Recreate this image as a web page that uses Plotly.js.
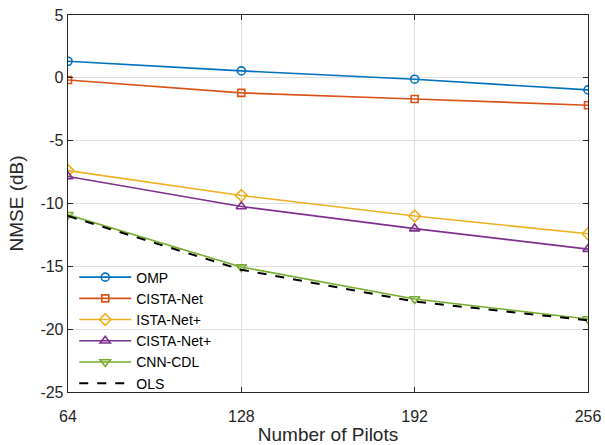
<!DOCTYPE html>
<html>
<head>
<meta charset="utf-8">
<script src="https://cdn.plot.ly/plotly-3.0.1.min.js"></script>
<style>html,body{margin:0;padding:0;background:#fff;}#chart{width:605px;height:445px;}</style>
</head>
<body>
<div id="chart"></div>
<script>
const pilots = [64, 128, 192, 256];
const seriesNames = ["OMP", "CISTA-Net", "ISTA-Net+", "CISTA-Net+", "CNN-CDL", "OLS"];
const omp = [1.32, 0.55, -0.11, -0.96];
const cistaNet = [-0.17, -1.2, -1.68, -2.18];
const istaNetPlus = [-7.38, -9.36, -11.0, -12.41];
const cistaNetPlus = [-7.85, -10.24, -12.0, -13.63];
const cnnCdl = [-10.9, -15.06, -17.6, -19.19];
const ols = [-11.0, -15.27, -17.8, -19.3];
const yTicks = [-25, -20, -15, -10, -5, 0, 5];

const colors = ["#0072BD", "#D95319", "#EDB120", "#7E2F8E", "#77AC30", "#000000"];
const symbols = ["circle-open", "square-open", "diamond-open", "triangle-up-open", "triangle-down-open", null];
const sizes = [8, 7, 9, 9, 9, 0];
const values = [omp, cistaNet, istaNetPlus, cistaNetPlus, cnnCdl, ols];

const traces = values.map((v, i) => {
  const t = {
    x: pilots, y: v, name: seriesNames[i], type: "scatter",
    line: {color: colors[i], width: i === 5 ? 2 : 1.6, dash: i === 5 ? "dash" : "solid"},
  };
  if (symbols[i]) {
    t.mode = "lines+markers";
    t.marker = {symbol: symbols[i], size: sizes[i], color: colors[i], line: {width: 1.6, color: colors[i]}};
  } else {
    t.mode = "lines";
  }
  return t;
});

const FONT = "Liberation Sans, Arial, sans-serif";
const axisCommon = {
  showline: true, mirror: "allticks", linecolor: "#262626", linewidth: 1.3,
  ticks: "inside", ticklen: 5, tickcolor: "#262626", tickwidth: 1.3,
  showgrid: true, gridcolor: "#dfdfdf", gridwidth: 1, zeroline: false,
  tickfont: {family: FONT, size: 16, color: "#262626"}
};

const layout = {
  width: 605, height: 445,
  margin: {l: 68, r: 17, t: 15, b: 52.5},
  paper_bgcolor: "#fff", plot_bgcolor: "#fff",
  font: {family: FONT, color: "#262626"},
  xaxis: Object.assign({}, axisCommon, {
    range: [64, 256], tickvals: pilots, ticktext: pilots.map(String),
    ticklabelstandoff: 9,
    title: {text: "Number of Pilots", font: {size: 19, color: "#262626"}, standoff: 4}
  }),
  yaxis: Object.assign({}, axisCommon, {
    range: [-25, 5], tickvals: yTicks, ticktext: yTicks.map(String),
    ticklabelstandoff: 0,
    title: {text: "NMSE (dB)", font: {size: 19, color: "#262626"}, standoff: 11}
  }),
  legend: {
    x: 0.012, y: -0.02, xanchor: "left", yanchor: "bottom",
    bgcolor: "rgba(0,0,0,0)", borderwidth: 0,
    itemwidth: 52,
    font: {family: FONT, size: 14, color: "#000"},
    tracegroupgap: 0
  },
  showlegend: true
};

Plotly.newPlot("chart", traces, layout, {displayModeBar: false, staticPlot: true});
</script>
</body>
</html>
